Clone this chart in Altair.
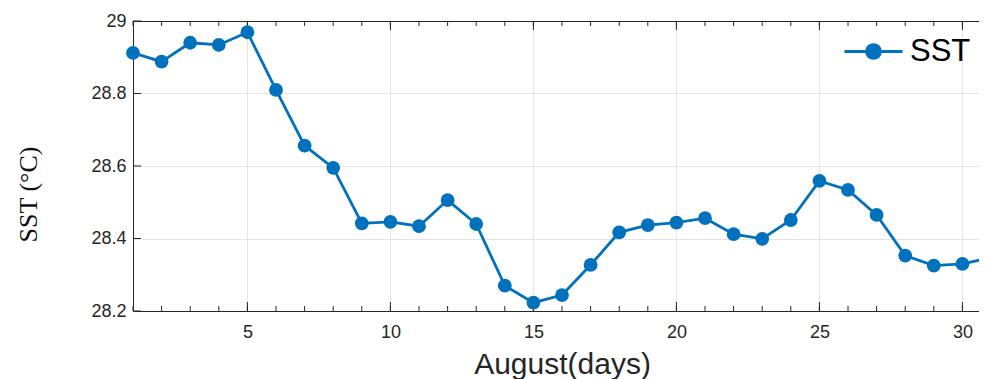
import altair as alt
import pandas as pd

days = list(range(1, 32))
sst = [28.912, 28.888, 28.940, 28.934, 28.969, 28.810, 28.656, 28.595, 28.442, 28.446,
       28.434, 28.506, 28.440, 28.270, 28.223, 28.244, 28.327, 28.417, 28.437, 28.444,
       28.456, 28.412, 28.399, 28.451, 28.559, 28.534, 28.465, 28.353, 28.325, 28.330,
       28.347]
x_ticks = [5, 10, 15, 20, 25, 30]
y_ticks = [28.2, 28.4, 28.6, 28.8, 29.0]
series = ["SST"] * len(days)

W, H = 846, 290
X_DOMAIN = [1, 30.58]
Y_DOMAIN = [28.2, 29.0]
BLUE = "#0072BD"
AXC = "#262626"

df = pd.DataFrame({"day": days, "sst": sst, "series": series})
minor_df = pd.DataFrame({"day": days[:-1]})
major_df = pd.DataFrame({"day": x_ticks})
ytick_df = pd.DataFrame({"v": y_ticks})

xs = alt.Scale(domain=X_DOMAIN, nice=False, zero=False)
ys = alt.Scale(domain=Y_DOMAIN, nice=False, zero=False)

x_axis = alt.Axis(values=x_ticks, format="d", grid=True, gridColor="#e4e4e4",
                  ticks=False, domain=True, domainColor=AXC, domainWidth=1,
                  labelFont="Liberation Sans", labelFontSize=18, labelColor=AXC,
                  labelBaseline="alphabetic", labelPadding=26,
                  title="August(days)", titleFont="Liberation Sans", titleFontSize=30,
                  titleFontWeight="normal", titleColor=AXC, titleX=429, titleY=62,
                  titleBaseline="alphabetic", titleAlign="center")
y_axis = alt.Axis(values=y_ticks, format="~f", grid=True, gridColor="#e4e4e4",
                  ticks=False, domain=True, domainColor=AXC, domainWidth=1,
                  labelFont="Liberation Sans", labelFontSize=18, labelColor=AXC,
                  labelPadding=7,
                  title="SST (°C)", titleFont="Liberation Serif", titleFontSize=26,
                  titleFontWeight="normal", titleColor="#111111", titleX=-97, titleY=173,
                  titleBaseline="alphabetic", titleAlign="center", titleAngle=270)

legend = alt.Legend(title=None, orient="none", legendX=710, legendY=0,
                    symbolType="M-1,0H1M-0.24,0A0.24,0.24,0,1,0,0.24,0A0.24,0.24,0,1,0,-0.24,0Z",
                    symbolSize=3364, symbolStrokeWidth=2.8,
                    symbolFillColor=BLUE, symbolStrokeColor=BLUE,
                    labelFont="Liberation Sans", labelFontSize=31, labelColor="black",
                    labelOffset=6)
color = alt.Color("series:N", scale=alt.Scale(range=[BLUE]), legend=legend)

base = alt.Chart(df)
line = base.mark_line(strokeWidth=2.8).encode(
    x=alt.X("day:Q", scale=xs, axis=x_axis),
    y=alt.Y("sst:Q", scale=ys, axis=y_axis),
    color=color,
)
points = base.mark_point(filled=True, size=190, opacity=1).encode(
    x=alt.X("day:Q", scale=xs),
    y=alt.Y("sst:Q", scale=ys),
    color=color,
)

minor_bot = alt.Chart(minor_df).mark_rule(color=AXC, strokeWidth=1).encode(
    x=alt.X("day:Q", scale=xs), y=alt.value(H), y2=alt.value(H - 5))
minor_top = alt.Chart(minor_df).mark_rule(color=AXC, strokeWidth=1).encode(
    x=alt.X("day:Q", scale=xs), y=alt.value(0), y2=alt.value(5))
major_bot = alt.Chart(major_df).mark_rule(color=AXC, strokeWidth=1).encode(
    x=alt.X("day:Q", scale=xs), y=alt.value(H), y2=alt.value(H - 9))
major_top = alt.Chart(major_df).mark_rule(color=AXC, strokeWidth=1).encode(
    x=alt.X("day:Q", scale=xs), y=alt.value(0), y2=alt.value(9))
ytick_left = alt.Chart(ytick_df).mark_rule(color=AXC, strokeWidth=1).encode(
    y=alt.Y("v:Q", scale=ys), x=alt.value(0), x2=alt.value(8))
top_border = alt.Chart(ytick_df).mark_rule(color=AXC, strokeWidth=1).encode(
    y=alt.value(0.5), x=alt.value(0), x2=alt.value(W))

chart = alt.layer(
    minor_bot, minor_top, major_bot, major_top, ytick_left, top_border,
    line, points,
).properties(
    width=W, height=H,
    autosize=alt.AutoSizeParams(type="none"),
    padding={"left": 125, "top": 13, "right": 0, "bottom": 76},
).configure_view(stroke=None).configure(background="white")

chart.save("out.html", embed_options={"renderer": "svg", "actions": False})
